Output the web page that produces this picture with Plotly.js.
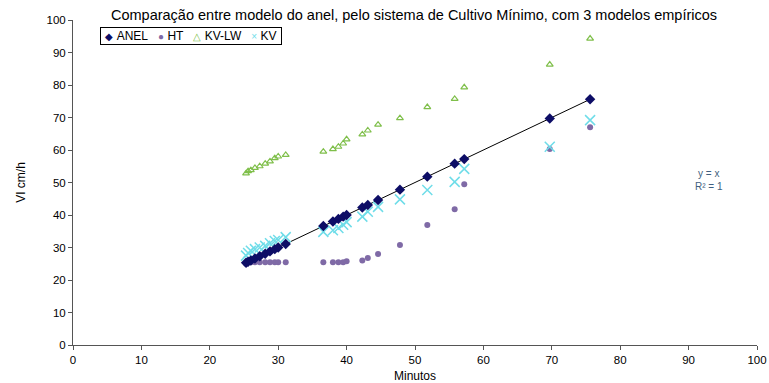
<!DOCTYPE html>
<html><head><meta charset="utf-8">
<script src="https://cdn.plot.ly/plotly-3.0.1.min.js"></script>
<style>html,body{margin:0;padding:0;background:#fff}#c{width:769px;height:383px}</style>
</head><body><div id="c"></div>
<script>
const minutos = [25.3,25.6,26.0,26.6,27.3,28.1,28.8,29.5,30.0,31.1,36.6,38.0,38.8,39.5,40.0,42.3,43.1,44.6,47.8,51.8,55.8,57.2,69.7,75.6];
const anel    = [25.3,25.6,26.0,26.6,27.3,28.1,28.8,29.5,30.0,31.1,36.6,38.0,38.8,39.5,40.0,42.3,43.1,44.6,47.8,51.8,55.8,57.2,69.7,75.6];
const ht      = [25.0,25.5,25.5,25.5,25.5,25.5,25.5,25.5,25.5,25.5,25.5,25.5,25.5,25.5,25.8,26.0,26.8,28.0,30.8,36.9,41.8,49.5,60.3,67.0];
const kvlw    = [52.8,53.5,53.8,54.5,55.0,55.8,56.5,57.5,58.0,58.5,59.5,60.3,61.0,62.0,63.3,64.8,66.0,67.8,69.8,73.2,75.7,79.3,86.3,94.3];
const kv      = [27.5,28.3,29.0,29.5,30.0,30.5,31.3,32.0,32.3,33.2,34.8,35.3,36.0,37.0,37.8,39.5,41.0,42.5,44.8,47.7,50.2,54.2,61.0,69.2];
const seriesNames = ['ANEL','HT','KV-LW','KV'];
const trendX  = [minutos[0], minutos[minutos.length-1]];
const trendY  = [anel[0], anel[anel.length-1]];
const xTicks  = [0,10,20,30,40,50,60,70,80,90,100];
const yTicks  = [0,10,20,30,40,50,60,70,80,90,100];

const colors = {ANEL:'#0d0d66', HT:'#7f6aa6', 'KV-LW':'#7fbf4a', KV:'#6fdde9'};
const glyphs = {ANEL:'◆', HT:'●', 'KV-LW':'△', KV:'×'};

const traces = [
  {x: trendX, y: trendY, mode:'lines', line:{color:'#000', width:1}, showlegend:false, hoverinfo:'skip'},
  {x: minutos, y: ht, name:'HT', mode:'markers', marker:{symbol:'circle', size:6, color:colors.HT}},
  {x: minutos, y: kvlw, name:'KV-LW', mode:'markers', marker:{symbol:'triangle-up-open', size:6, color:colors['KV-LW'], line:{width:1.2}}},
  {x: minutos, y: kv, name:'KV', mode:'markers', marker:{symbol:'x-thin-open', size:10, color:colors.KV, line:{width:1.5, color:colors.KV}}},
  {x: minutos, y: anel, name:'ANEL', mode:'markers', marker:{symbol:'diamond', size:8, color:colors.ANEL}}
];
const NB = '\u00a0';
const legendText = NB + seriesNames.map(n =>
  `<span style="color:${colors[n]};font-size:10px">${glyphs[n]}</span>${NB}${n}`).join(NB+NB+NB) + NB;

// plot area in pixels: x 73..757, y 20..345
const px = v => (v - 73) / 684;
const py = v => (345 - v) / 325;

const layout = {
  width:769, height:383,
  margin:{l:73, r:12, t:20, b:38},
  paper_bgcolor:'#fff', plot_bgcolor:'#fff',
  font:{family:'Liberation Sans, Arial, sans-serif', size:11, color:'#000'},
  showlegend:false,
  title:{text:'Comparação entre modelo do anel, pelo sistema de Cultivo Mínimo, com 3 modelos empíricos',
    font:{size:14.5}, x:414/769, xanchor:'center', y:1-15/383, yanchor:'middle', xref:'container', yref:'container'},
  xaxis:{range:[0,100], tickvals:xTicks, ticktext:xTicks.map(String), showgrid:false, zeroline:false,
    showline:true, linecolor:'#555', linewidth:1, ticks:'outside', ticklen:4, tickcolor:'#555',
    tickfont:{size:11.5},
    title:{text:'Minutos', font:{size:12}, standoff:6}, fixedrange:true},
  yaxis:{range:[0,100], tickvals:yTicks, ticktext:yTicks.map(String), showgrid:false, zeroline:false,
    showline:true, linecolor:'#555', linewidth:1, ticks:'outside', ticklen:4, tickcolor:'#555',
    tickfont:{size:11.5},
    title:{text:'VI cm/h', font:{size:12}, standoff:18}},
  annotations:[
    {text:'y = x<br>R² = 1', x:px(725), y:py(180), xref:'paper', yref:'paper',
     showarrow:false, font:{size:10, color:'#3f5f80'}, align:'center'},
    {text:legendText, x:px(100), y:py(27), xref:'paper', yref:'paper', xanchor:'left', yanchor:'top',
     showarrow:false, font:{size:12, color:'#000'}, bordercolor:'#000', borderwidth:1, borderpad:1, bgcolor:'#fff'}
  ]
};
Plotly.newPlot('c', traces, layout, {displayModeBar:false, staticPlot:true});
</script></body></html>
